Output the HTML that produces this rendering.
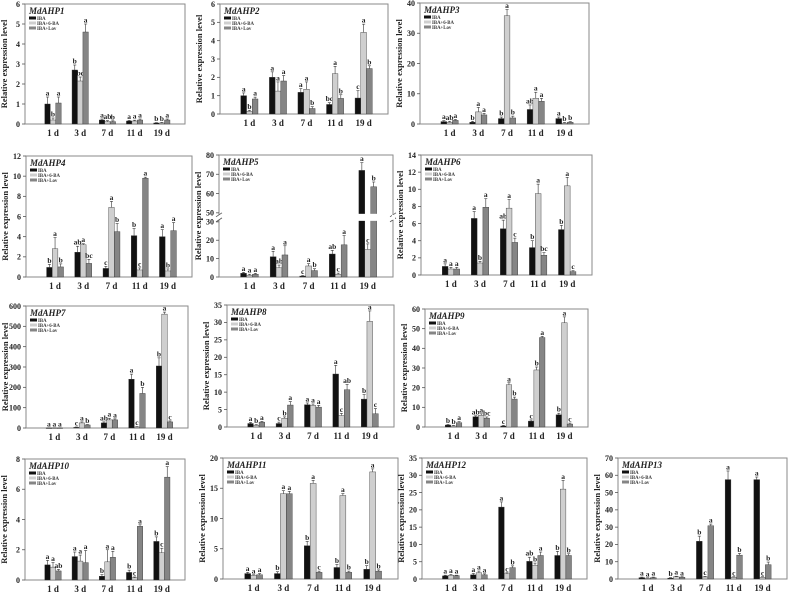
<!DOCTYPE html>
<html><head><meta charset="utf-8"><style>
html,body{margin:0;padding:0;background:#fff;}
svg{display:block;font-family:"Liberation Serif",serif;}
</style></head><body>
<svg id="fig" width="789" height="595" viewBox="0 0 789 595"></svg>
<script>
const days = ["1 d","3 d","7 d","11 d","19 d"];
const treatments = ["IBA","IBA+6-BA","IBA+Lov"];
const genes = ["MdAHP1","MdAHP2","MdAHP3","MdAHP4","MdAHP5","MdAHP6","MdAHP7","MdAHP8","MdAHP9","MdAHP10","MdAHP11","MdAHP12","MdAHP13"];
const yMax = [6,6,40,12,80,14,600,35,60,8,20,35,70];
const yStep = [1,1,10,2,10,2,100,5,10,2,5,5,10];
const valIBA = [
 [1.0,2.7,0.2,0.15,0.05],[1.0,2.0,1.18,0.52,0.87],[0.8,0.6,1.8,4.8,1.8],
 [0.95,2.45,0.85,4.1,4.0],[2,11,0.5,12.5,72],[1.0,6.6,5.4,3.2,5.3],
 [0.5,3,25,240,305],[1,1,6.4,15.2,8],[1,5.2,0.5,3,6.2],
 [1.0,1.55,0.25,0.5,2.55],[0.9,0.9,5.5,1.9,1.6],[0.9,1.2,20.8,5.1,6.8],[0.8,0.5,21.8,57.5,57.5]];
const valBA = [
 [0.2,2.15,0.12,0.15,0.05],[0.15,1.25,1.35,2.2,4.45],[0.6,4,35.8,8.5,0.3],
 [2.8,3.2,6.9,0.7,0.6],[1,5,6,1.5,15],[0.7,1.4,7.8,9.5,10.4],
 [0.5,25,40,5,560],[0.5,2.5,6.2,3.3,30.3],[0.5,6,21.5,29,53],
 [0.85,1.25,1.2,0.15,1.8],[0.6,14.1,15.8,13.8,17.7],[1.1,1.8,1.5,4.0,26],[0.5,1.3,1.2,1.0,1.0]];
const valLov = [
 [1.05,4.6,0.12,0.2,0.2],[0.82,1.8,0.3,0.85,2.48],[1.2,3,2,7.5,0.6],
 [1.0,1.35,4.5,9.8,4.6],[1.5,12,3.5,17.5,63.5],[0.7,7.9,3.8,2.3,0.4],
 [0.5,15,40,170,30],[1.4,6.3,5.7,10.7,3.8],[2.2,4.5,14.2,45.5,1.5],
 [0.6,1.15,1.5,3.55,6.8],[0.7,14.1,1.1,1.1,1.3],[1.0,1.2,3.3,6.8,6.8],[0.8,1.0,30.8,13.8,8.3]];
const errIBA = [
 [0.35,0.25,0.05,0.03,0.02],[0.15,0.3,0.2,0.1,0.4],[0.3,0.3,0.5,1.5,0.5],
 [0.3,0.6,0.2,0.7,0.7],[0.5,3,0.3,2,4],[0.3,0.8,1,0.8,0.5],
 [0.5,2,5,25,40],[0.3,0.4,0.5,2.5,1.3],[0.3,0.5,0.3,0.6,0.8],
 [0.3,0.3,0.1,0.15,0.3],[0.2,0.3,0.7,0.5,0.6],[0.2,0.4,1.5,1.2,1.2],[0.3,0.3,3,5,1.5]];
const errBA = [
 [0.1,0.2,0.05,0.04,0.03],[0.05,0.5,0.4,0.4,0.45],[0.3,1.5,2,2,0.2],
 [1.1,0.1,0.6,0.2,0.2],[0.5,1.5,1.3,0.6,3],[0.2,0.2,1,1.1,1],
 [0.3,5,8,2,10],[0.2,0.4,0.4,0.6,3],[0.3,0.7,1,1.5,3],
 [0.3,0.4,0.8,0.05,0.3],[0.1,0.5,0.5,0.3,0.5],[0.2,0.5,0.3,0.6,2.5],[0.2,0.3,0.3,0.3,0.3]];
const errLov = [
 [0.3,0.4,0.04,0.05,0.05],[0.1,0.3,0.1,0.2,0.15],[0.3,0.5,0.6,1,0.2],
 [0.3,0.4,0.8,0.1,0.8],[0.5,5,1,5,2.5],[0.2,1,0.5,0.3,0.1],
 [0.3,2,5,30,5],[0.2,1,0.5,1.5,1.5],[0.5,0.6,1,0.6,0.5],
 [0.1,0.8,0.4,0.1,0.7],[0.2,0.4,0.2,0.2,0.2],[0.1,0.3,0.5,1,0.5],[0.3,0.3,1,1,1.5]];
const letIBA = [["a","b","a","a","b"],["a","a","a","bc","c"],["a","b","b","ab","a"],["b","ab","c","b","a"],["a","a","c","ab","a"],["a","a","ab","b","b"],["a","c","ab","a","b"],["a","c","a","a","b"],["b","ab","c","c","b"],["a","a","b","b","b"],["a","b","b","b","b"],["a","a","a","ab","b"],["a","b","b","a","a"]];
const letBA = [["b","bc","ab","a","b"],["b","a","a","a","a"],["ab","a","a","a","b"],["a","a","a","c","b"],["a","ab","a","c","c"],["a","b","a","a","a"],["a","a","a","c","a"],["b","b","a","c","a"],["b","a","a","b","a"],["a","a","a","c","c"],["a","a","a","a","a"],["a","a","c","b","a"],["a","a","c","c","c"]];
const letLov = [["a","a","b","a","a"],["a","a","b","b","b"],["a","a","b","a","b"],["b","bc","b","a","a"],["a","a","b","a","b"],["a","a","c","bc","c"],["a","b","a","b","c"],["a","a","a","ab","c"],["a","bc","b","a","c"],["ab","a","a","a","a"],["a","a","c","b","b"],["a","a","b","a","b"],["a","a","a","b","b"]];

// panel frames [left, top, right, bottom] (layout)
const frames = [[25,4,185,124],[220,4,388,114],[420,3,589,124],
 [26,156,192,277],[219,155,393,277],[421,155,592,275],
 [26,306,188,428],[227,305,394,427],[425,309,588,427],
 [25,459,185,580],[223,458,398,579],[422,458,587,579],[618,458,787,579]];
const colors = ["#111111","#cfcfcf","#858585"];
const NS = "http://www.w3.org/2000/svg";
const svg = document.getElementById('fig');
function mk(tag, attrs, parent){const e=document.createElementNS(NS,tag);for(const k in attrs)e.setAttribute(k,attrs[k]);(parent||svg).appendChild(e);return e;}

genes.forEach((g,pi)=>{
  const [L,T,R,B] = frames[pi];
  const W = R-L, H = B-T;
  const grp = mk('g',{});
  
  
  const broken = (pi===4);
  // y scale
  function y(v){
    if(!broken) return B - v/yMax[pi]*H;
    if(v<=30) return B - v/30*H*0.452;
    const v2 = Math.max(v,50);
    return B - H*0.526 - (v2-50)/30*H*0.474;
  }
  const x = i => L + W*(0.175 + i*0.17);
  const bw = W*0.034;
  // frame
  const fr = mk('rect',{x:L,y:T,width:W,height:H,fill:'none',stroke:'#8a8a8a','stroke-width':1},grp);
  
  
  // ticks
  let ticks=[];
  if(broken){ticks=[0,10,20,30,50,60,70,80];}
  else{for(let v=0;v<=yMax[pi]+1e-9;v+=yStep[pi])ticks.push(v);}
  ticks.forEach(v=>{
    const yy=y(v);
    mk('line',{x1:L-3,x2:L,y1:yy,y2:yy,stroke:'#555','stroke-width':0.8},grp);
    const t=mk('text',{x:L-5,y:yy+2.8,'font-size':8,'font-weight':'bold','text-anchor':'end',fill:'#222'},grp);
    t.textContent=String(v);
    
    
  });
  // y title
  const yt=mk('text',{x:0,y:0,'font-size':8.5,'font-weight':'bold','text-anchor':'middle',fill:'#222',transform:`translate(${L-18},${(T+B)/2}) rotate(-90)`},grp);
  yt.textContent='Relative expression level';
  
  
  // bars
  const vals=[valIBA[pi],valBA[pi],valLov[pi]];
  const errs=[errIBA[pi],errBA[pi],errLov[pi]];
  const lets=[letIBA[pi],letBA[pi],letLov[pi]];
  days.forEach((d,di)=>{
    const cx=x(di);
    for(let s=0;s<3;s++){
      const v=vals[s][di], e=errs[s][di];
      const bx=cx+(s-1.5)*bw;
      const top=y(v);
      const r=mk('rect',{x:bx,y:top,width:bw,height:Math.max(B-top,0.6),fill:colors[s],stroke:'#333','stroke-width':0.4},grp);
      
      
      const et=y(v+e);
      mk('line',{x1:bx+bw/2,x2:bx+bw/2,y1:top,y2:et,stroke:'#333','stroke-width':0.6},grp);
      mk('line',{x1:bx+bw/2-1.5,x2:bx+bw/2+1.5,y1:et,y2:et,stroke:'#333','stroke-width':0.6},grp);
      const lt=mk('text',{x:bx+bw/2,y:et-1.5,'font-size':7.5,'font-weight':'bold','text-anchor':'middle',fill:'#222'},grp);
      lt.textContent=lets[s][di];
      
      
    }
    const ct=mk('text',{x:cx,y:B+12,'font-size':9,'font-weight':'bold','text-anchor':'middle',fill:'#222'},grp);
    ct.textContent=d;
    
    
  });
  if(broken){
    const gy1=y(30)-1, gy2=y(50)+1;
    mk('rect',{x:L+1,y:gy2,width:W-2,height:gy1-gy2,fill:'#fff'},grp);
    mk('rect',{x:L-6,y:gy2+1,width:8,height:gy1-gy2-2,fill:'#fff'},grp);
    mk('line',{x1:L-3,x2:L+3,y1:gy1+1,y2:gy1-3,stroke:'#555','stroke-width':0.8},grp);
    mk('line',{x1:L-3,x2:L+3,y1:gy2+3,y2:gy2-1,stroke:'#555','stroke-width':0.8},grp);
    mk('line',{x1:R-3,x2:R+3,y1:gy1+1,y2:gy1-3,stroke:'#555','stroke-width':0.8},grp);
    mk('line',{x1:R-3,x2:R+3,y1:gy2+3,y2:gy2-1,stroke:'#555','stroke-width':0.8},grp);
    mk('rect',{x:R-1,y:gy2+1,width:3,height:gy1-gy2-2,fill:'#fff'},grp);
  }
  // gene title + legend
  const gt=mk('text',{x:L+4,y:T+10,'font-size':9,'font-weight':'bold','font-style':'italic',fill:'#222'},grp);
  gt.textContent=g;
  
  
  treatments.forEach((t,ti)=>{
    const ly=T+15+ti*5;
    mk('rect',{x:L+4,y:ly-2.5,width:7,height:3,fill:colors[ti]},grp);
    const tx=mk('text',{x:L+12,y:ly+0.8,'font-size':4.8,'font-weight':'bold',fill:'#333'},grp);
    tx.textContent=t;
    
    
  });
});
</script>
</body></html>
